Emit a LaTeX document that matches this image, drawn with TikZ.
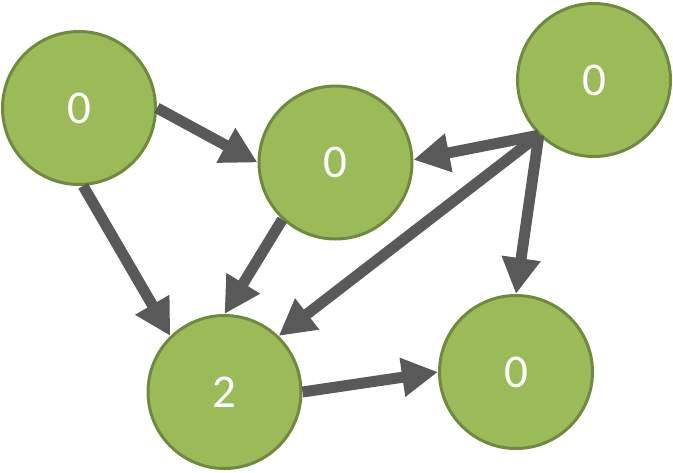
\documentclass[tikz,border=0pt]{standalone}
\usepackage{fontspec}
\setmainfont{Carlito}
\usetikzlibrary{arrows.meta}
\definecolor{nodefill}{HTML}{9BBB59}
\definecolor{nodeline}{HTML}{71893F}
\definecolor{arrowgray}{HTML}{595959}
\begin{document}
\begin{tikzpicture}[x=1pt,y=-1pt,
  vnode/.style={circle, draw=nodeline, fill=nodefill, line width=3pt,
    minimum size=153pt, inner sep=0pt, text=white,
    font=\fontsize{47}{52}\selectfont},
  edge/.style={draw=arrowgray, line width=11pt,
    -{Triangle[length=36pt,width=37pt]}}]
\useasboundingbox (0,0) rectangle (673,472);
\node[vnode] (A) at (79,108) {0};
\node[vnode] (B) at (335.5,162.5) {0};
\node[vnode] (C) at (594,80) {0};
\node[vnode] (D) at (224.5,392) {2};
\node[vnode] (E) at (516,372) {0};
\draw[edge] (A.0) -- (B.180);
\draw[edge] (A.273) -- (D.134);
\draw[edge] (B.227) -- (D.90);
\draw[edge] (C.225) -- (B.2);
\draw[edge] (C.225) -- (D.46);
\draw[edge] (C.225) -- (E.90);
\draw[edge] (D.0) -- (E.180);
\end{tikzpicture}
\end{document}
